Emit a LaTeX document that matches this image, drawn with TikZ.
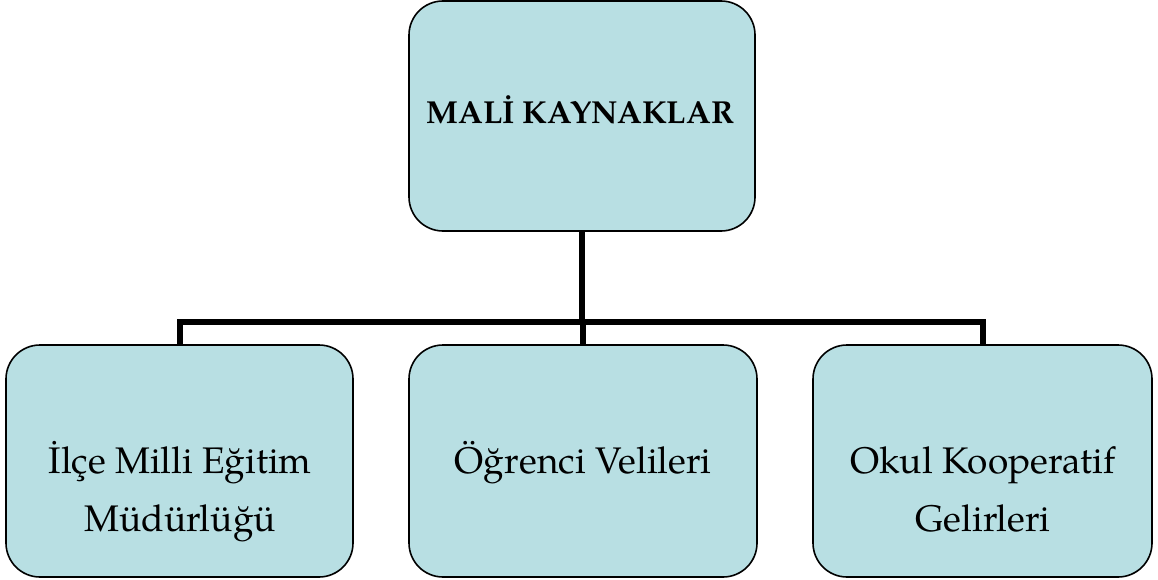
\documentclass[tikz,border=0pt]{standalone}
\usepackage{fontspec}
\setmainfont{TeX Gyre Pagella}
\definecolor{boxfill}{RGB}{184,223,227}
\begin{document}
\begin{tikzpicture}[x=1pt,y=-1pt,
  box/.style={draw=black,line width=1.6pt,fill=boxfill,rounded corners=34pt,inner sep=0pt},
  conn/.style={draw=black,line width=6pt,line join=miter},
  lbl/.style={anchor=base,inner sep=0pt,font=\fontsize{37}{44}\selectfont}]
\useasboundingbox (0,0) rectangle (1158,580);
% boxes
\node[box,minimum width=346pt,minimum height=230pt] (top) at (582,116) {};
\node[box,minimum width=347pt,minimum height=232pt] (l) at (179.5,461) {};
\node[box,minimum width=348pt,minimum height=232pt] (m) at (583,461) {};
\node[box,minimum width=339pt,minimum height=232pt] (r) at (982.5,461) {};
% bus
\coordinate (bus) at (583,322);
\draw[conn] (top.south) -- (top.south |- bus);
\draw[conn] (l.north) -- (l.north |- bus) -- (r.north |- bus) -- (r.north);
\draw[conn] (m.north) -- (m.north |- bus);
% texts
\node[lbl,font=\fontsize{31.8}{38}\selectfont\bfseries] (ttop) at (580.5,124) {MALİ KAYNAKLAR};
\node[lbl] (tl1) at (180,473) {İlçe Milli Eğitim};
\node[lbl] (tl2) at (180,531) {Müdürlüğü};
\node[lbl] (tm) at (583,473) {Öğrenci Velileri};
\node[lbl] (tr1) at (983,473) {Okul Kooperatif};
\node[lbl] (tr2) at (983,531) {Gelirleri};
\end{tikzpicture}
\end{document}
